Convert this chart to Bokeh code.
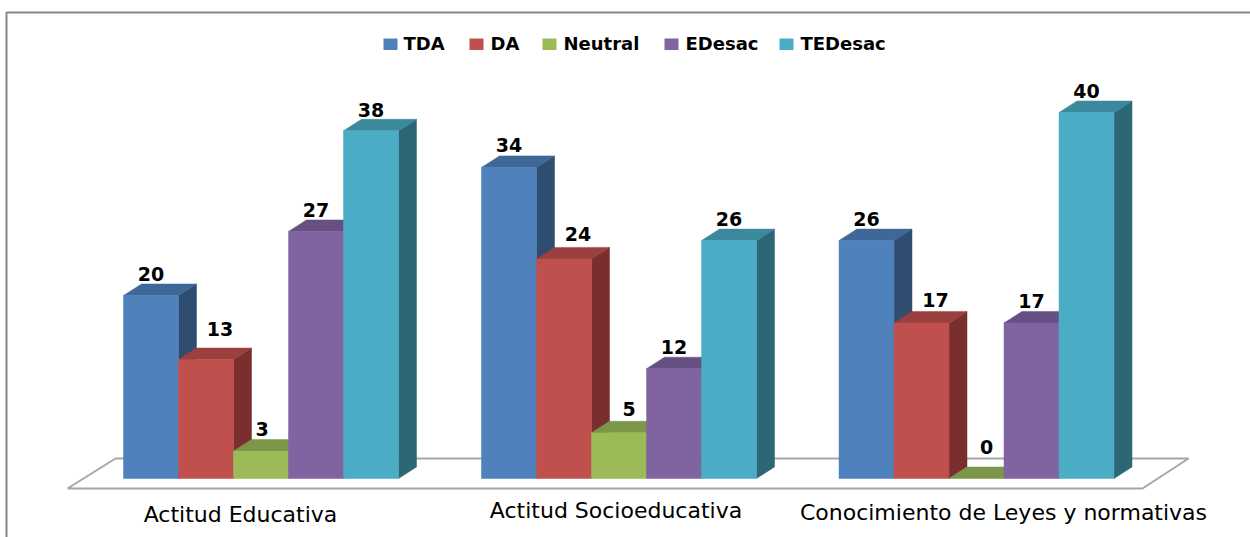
from bokeh.plotting import figure
from bokeh.models import ColumnDataSource, Range1d
from bokeh.core.properties import value
from bokeh.embed import file_html
from bokeh.resources import INLINE

categories = ["Actitud Educativa", "Actitud Socioeducativa", "Conocimiento de Leyes y normativas"]
series_names = ["TDA", "DA", "Neutral", "EDesac", "TEDesac"]
tda = [20, 34, 26]
da = [13, 24, 17]
neutral = [3, 5, 0]
edesac = [27, 12, 17]
tedesac = [38, 26, 40]
series_values = [tda, da, neutral, edesac, tedesac]

front_colors = ["#4F81BD", "#C0504D", "#9BBB59", "#8064A2", "#4BACC6"]
top_colors = ["#3F6797", "#9A403E", "#7C9647", "#664F82", "#3C899E"]
side_colors = ["#2F4D71", "#7A2F2E", "#5D7035", "#4C3C61", "#2D6776"]

# layout (picture pixels)
W, H = 1250, 537
Y0_PX = 478
PX_PER_UNIT = 9.15
GROUP_X = [123, 481, 838.5]
BAR_W = 55.0
DX, DY_PX = 18, 11.5
DY = DY_PX / PX_PER_UNIT
FONT = "DejaVu Sans"

# label offsets per series and group (pixels); lift is to the digits' centre
label_dx = [[0, 0, 0], [14, 14, 14], [1, 10, 10], [0, 0, 0], [0, 0, 0]]
label_lift = [[22, 22, 22], [31, 25, 23], [22, 24, 32], [21, 22, 22], [21, 22, 22]]


def y_of(px):
    return (Y0_PX - px) / PX_PER_UNIT


p = figure(width=W, height=H, output_backend="svg", toolbar_location=None,
           x_range=Range1d(0, W), y_range=Range1d(y_of(H), y_of(0)),
           min_border=0, outline_line_color=None, background_fill_color="white",
           border_fill_color="white")
p.xaxis.visible = False
p.yaxis.visible = False
p.grid.visible = False

# chart-area border: top and left only
p.line([6, 6, W], [y_of(537), y_of(12), y_of(12)], line_color="#868686", line_width=2)

# floor
fx = [67, 115, 1188, 1142, 67]
fy = [y_of(488), y_of(458), y_of(458), y_of(488), y_of(488)]
p.line(fx, fy, line_color="#A6A6A6", line_width=2)

# bars, left to right so nearer ones overlap the previous sides
for g in range(len(categories)):
    for s, vals in enumerate(series_values):
        v = vals[g]
        x0 = GROUP_X[g] + s * BAR_W
        x1 = x0 + BAR_W
        if v > 0:
            p.patch([x1, x1 + DX, x1 + DX, x1], [0, DY, v + DY, v],
                    fill_color=side_colors[s], line_color=side_colors[s], line_width=0.5)
        p.patch([x0, x1, x1 + DX, x0 + DX], [v, v, v + DY, v + DY],
                fill_color=top_colors[s], line_color=top_colors[s], line_width=0.5)
        if v > 0:
            p.quad(left=x0, right=x1, bottom=0, top=v,
                   fill_color=front_colors[s], line_color=front_colors[s], line_width=0.5)

# value labels
lx, ly, lt = [], [], []
for g in range(len(categories)):
    for s, vals in enumerate(series_values):
        lx.append(GROUP_X[g] + (s + 0.5) * BAR_W + label_dx[s][g])
        ly.append(vals[g] + label_lift[s][g] / PX_PER_UNIT)
        lt.append(str(vals[g]))
p.text(x="x", y="y", text="t", source=ColumnDataSource(dict(x=lx, y=ly, t=lt)),
       text_font=value(FONT), text_font_size="19px", text_font_style="bold",
       text_color="#000000", text_align="center", text_baseline="middle")

# category labels
cat_x = [240, 615.5, 1003]
cat_y = [y_of(514), y_of(510), y_of(512)]
p.text(x=cat_x, y=cat_y, text=categories, text_font=value(FONT), text_font_size="22px",
       text_color="#000000", text_align="center", text_baseline="middle")

# legend
sw_x = [383, 469, 542, 664, 779]
txt_x = [403, 490, 563, 685, 800]
p.quad(left=sw_x, right=[x + 14 for x in sw_x], bottom=y_of(49.5), top=y_of(38),
       fill_color=front_colors, line_color=None)
p.text(x=txt_x, y=y_of(43), text=series_names, text_font=value(FONT), text_font_size="18px",
       text_font_style="bold", text_color="#000000", text_align="left", text_baseline="middle")

open("out.html", "w").write(file_html(p, INLINE))
